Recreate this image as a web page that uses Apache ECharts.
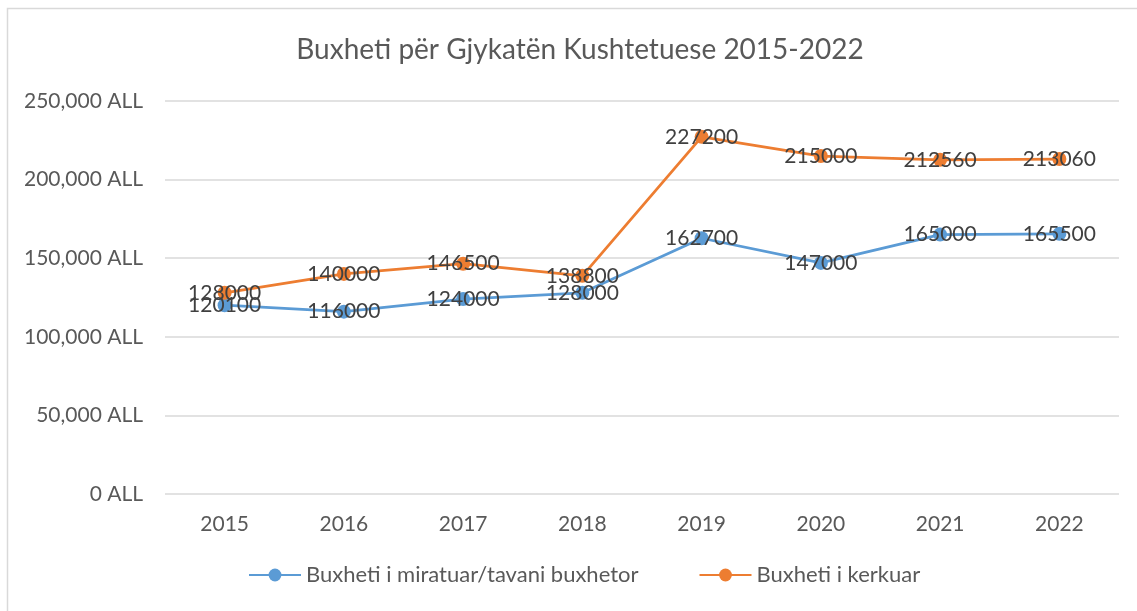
<!DOCTYPE html>
<html>
<head>
<meta charset="utf-8">
<script src="https://cdn.jsdelivr.net/npm/echarts@6/dist/echarts.min.js"></script>
<style>html,body{margin:0;padding:0;background:#fff}#c{width:1137px;height:611px}</style>
</head>
<body>
<div id="c"></div>
<script>
const categories = ['2015','2016','2017','2018','2019','2020','2021','2022'];
const approved = [120100, 116000, 124000, 128000, 162700, 147000, 165000, 165500];
const requested = [128000, 140000, 146500, 138800, 227200, 215000, 212560, 213060];
const seriesNames = ['Buxheti i miratuar/tavani buxhetor', 'Buxheti i kerkuar'];
const titleText = 'Buxheti për Gjykatën Kushtetuese 2015-2022';

const FONT = 'Lato, "Open Sans", sans-serif';
const chart = echarts.init(document.getElementById('c'));
const labelStyle = {show: true, position: 'inside', color: '#404040', fontSize: 21, fontFamily: FONT};
chart.setOption({
  animation: false,
  backgroundColor: '#fff',
  graphic: [{type: 'rect', shape: {x: 7.5, y: 8.5, width: 1300, height: 800}, style: {fill: 'none', stroke: '#d9d9d9', lineWidth: 1.5}, silent: true, z: -1}],
  title: {text: titleText, left: 575, top: 31, textAlign: 'center',
    textStyle: {fontFamily: FONT, fontSize: 28, fontWeight: 'normal', color: '#595959'}},
  legend: {bottom: 20, left: 243, itemGap: 60, itemWidth: 52, itemHeight: 16,
    textStyle: {fontFamily: FONT, fontSize: 22, color: '#595959'}},
  grid: {left: 165, right: 18, top: 101, bottom: 117},
  xAxis: {type: 'category', data: categories,
    axisLine: {show: false}, axisTick: {show: false},
    axisLabel: {fontFamily: FONT, fontSize: 21, color: '#595959', margin: 20}},
  yAxis: {type: 'value', min: 0, max: 250000, interval: 50000,
    axisLine: {show: false}, axisTick: {show: false},
    splitLine: {lineStyle: {color: '#d9d9d9', width: 1.5}},
    axisLabel: {fontFamily: FONT, fontSize: 21, color: '#595959', margin: 22,
      formatter: v => v.toLocaleString('en-US') + ' ALL'}},
  series: [
    {name: seriesNames[0], type: 'line', data: approved, color: '#5b9bd5',
     symbol: 'circle', symbolSize: 14, lineStyle: {width: 2.75}, label: labelStyle},
    {name: seriesNames[1], type: 'line', data: requested, color: '#ed7d31',
     symbol: 'circle', symbolSize: 14, lineStyle: {width: 2.75}, label: labelStyle}
  ]
});
</script>
</body>
</html>
